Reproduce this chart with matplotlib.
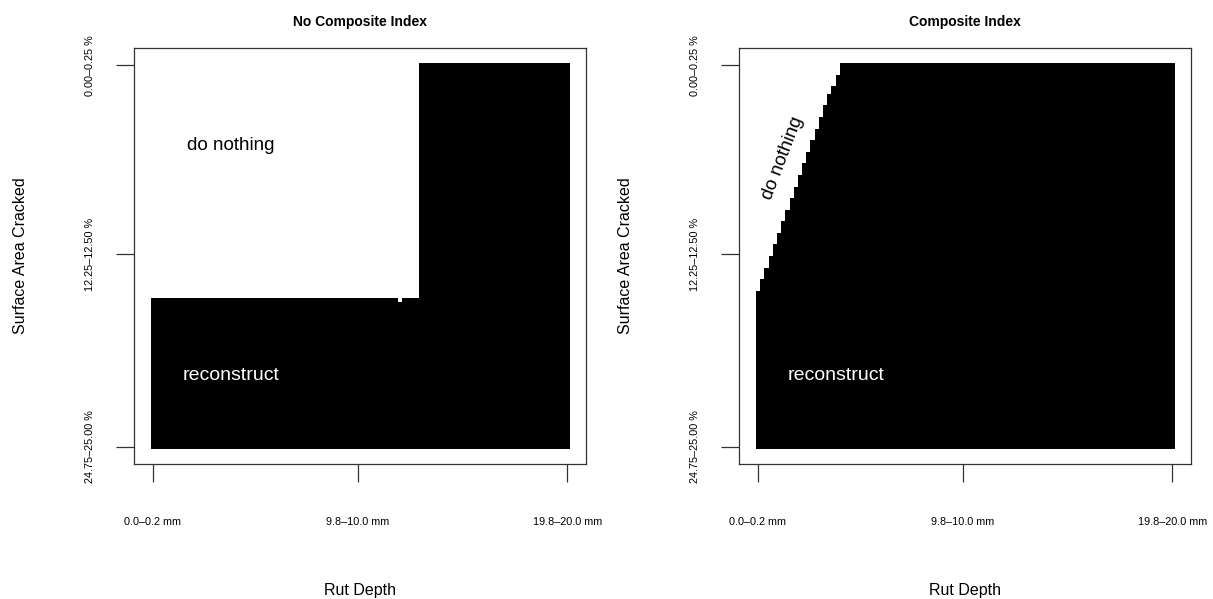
import matplotlib.pyplot as plt
import numpy as np

plt.rcParams['font.family'] = ['Liberation Sans', 'DejaVu Sans']

# 100 rut depth bins (0.2 mm) x 100 cracked area bins (0.25 %)
n_rut = 100
n_crack = 100
rut_ticks = [0, 49, 99]
rut_labels = ['0.0–0.2 mm', '9.8–10.0 mm', '19.8–20.0 mm']
crack_ticks = [0, 49, 99]
crack_labels = ['0.00–0.25 %', '12.25–12.50 %', '24.75–25.00 %']

# first cracked-area bin that is "reconstruct", for each rut depth bin
no_composite_start = [61] * 59 + [62] + [61] * 4 + [0] * 36
composite_start = [59, 56, 53, 50, 47, 44, 41, 38, 35, 32,
                   29, 26, 23, 20, 17, 14, 11, 8, 6, 3] + [0] * 80

panels = [
    ('No Composite Index', no_composite_start, (18.5, 20.7, 0)),
    ('Composite Index', composite_start, (5.9, 24.1, 69)),
]


def decision_grid(start):
    rows = np.arange(n_crack)[:, None]
    return (rows >= np.array(start)[None, :]).astype(int)


fig = plt.figure(figsize=(12.13, 5.99), dpi=100)
lefts = [134 / 1213, 739 / 1213]

for left, (title, start, (tx, ty, rot)) in zip(lefts, panels):
    ax = fig.add_axes([left, 1 - 464 / 599, 452 / 1213, 416 / 599])
    ax.imshow(decision_grid(start), cmap='gray_r', vmin=0, vmax=1,
              interpolation='nearest', aspect='auto',
              extent=(-0.5, n_rut - 0.5, n_crack - 0.5, -0.5))
    ax.set_xlim(-4.5, n_rut + 3.5)
    ax.set_ylim(n_crack + 3.5, -4.5)

    ax.set_xticks(rut_ticks)
    ax.set_xticklabels(rut_labels, fontsize=7.8)
    ax.set_yticks(crack_ticks)
    ax.set_yticklabels(crack_labels, fontsize=7.8, rotation=90, va='center')
    ax.tick_params(axis='both', length=13, width=0.9, color='#333333')
    ax.tick_params(axis='x', pad=25)
    ax.tick_params(axis='y', pad=15)
    for s in ax.spines.values():
        s.set_linewidth(0.9)
        s.set_color('#333333')

    ax.set_title(title, fontsize=10, fontweight='bold', y=1.0625, pad=0, va='center')
    ax.set_xlabel('Rut Depth', fontsize=11.5)
    ax.xaxis.set_label_coords(0.5, -0.303)
    ax.xaxis.label.set_va('center')
    ax.set_ylabel('Surface Area Cracked', fontsize=11.5)
    ax.yaxis.set_label_coords(-0.252, 0.5)
    ax.yaxis.label.set_va('center')

    ax.text(tx, ty, 'do nothing', ha='center', va='center', fontsize=13.6,
            rotation=rot, rotation_mode='anchor')
    ax.text(18.7, 80.6, 'reconstruct', ha='center', va='center', fontsize=14,
            color='white')

fig.savefig('out.png', dpi=100)
